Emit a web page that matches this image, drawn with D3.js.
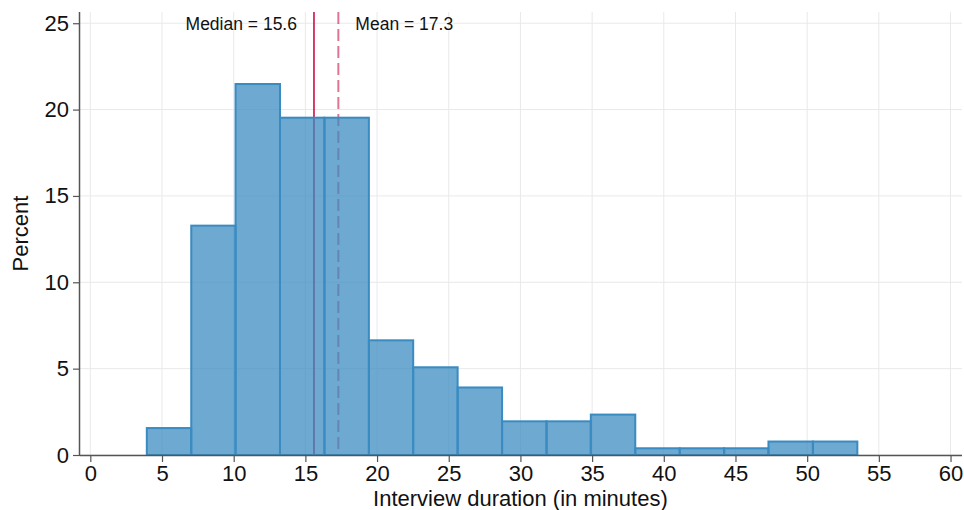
<!DOCTYPE html>
<html>
<head>
<meta charset="utf-8">
<script src="https://cdn.jsdelivr.net/npm/d3@7/dist/d3.min.js"></script>
<style>
  html, body { margin: 0; padding: 0; background: #fff; }
  svg { display: block; font-family: "Liberation Sans", Arial, sans-serif; }
</style>
</head>
<body>
<svg id="chart" width="964" height="510"></svg>
<script>
// ---- data ----
const binEdges = [3.94, 7.04, 10.13, 13.23, 16.33, 19.43, 22.52, 25.62, 28.72, 31.82, 34.91, 38.01, 41.11, 44.21, 47.30, 50.40, 53.50];
const percents = [1.56, 13.28, 21.48, 19.53, 19.53, 6.64, 5.08, 3.91, 1.95, 1.95, 2.34, 0.39, 0.39, 0.39, 0.78, 0.78];
const xTicks = [0, 5, 10, 15, 20, 25, 30, 35, 40, 45, 50, 55, 60];
const yTicks = [0, 5, 10, 15, 20, 25];
const medianValue = 15.6;
const meanValue = 17.3;
const medianLabel = "Median = 15.6";
const meanLabel = "Mean = 17.3";
const xTitle = "Interview duration (in minutes)";
const yTitle = "Percent";

// ---- layout ----
const svg = d3.select("#chart");
const plotLeft = 80, plotRight = 962, plotTop = 12, plotBottom = 455;
const x = d3.scaleLinear().domain([-0.72, 60.8]).range([plotLeft, plotRight]);
const y = d3.scaleLinear().domain([0, 25.65]).range([plotBottom, plotTop]);

const barStroke = "#3a8bc1";
const gridColor = "#e9e9e9";
const axisColor = "#555555";

// gridlines
svg.append("g").selectAll("line").data(xTicks).join("line")
  .attr("x1", d => x(d)).attr("x2", d => x(d))
  .attr("y1", plotTop).attr("y2", plotBottom)
  .attr("stroke", gridColor).attr("stroke-width", 1);
svg.append("g").selectAll("line").data(yTicks).join("line")
  .attr("x1", plotLeft).attr("x2", plotRight)
  .attr("y1", d => y(d)).attr("y2", d => y(d))
  .attr("stroke", gridColor).attr("stroke-width", 1);

// reference lines (behind bars)
svg.append("line")
  .attr("x1", x(medianValue)).attr("x2", x(medianValue))
  .attr("y1", plotTop).attr("y2", plotBottom)
  .attr("stroke", "#c8003c").attr("stroke-width", 1.5);
svg.append("line")
  .attr("x1", x(meanValue)).attr("x2", x(meanValue))
  .attr("y1", plotTop).attr("y2", plotBottom)
  .attr("stroke", "#c8003c").attr("stroke-opacity", 0.55)
  .attr("stroke-width", 2).attr("stroke-dasharray", "12,5");

// bars
const bins = percents.map((p, i) => ({ x0: binEdges[i], x1: binEdges[i + 1], p }));
svg.append("g").selectAll("rect").data(bins).join("rect")
  .attr("x", d => x(d.x0))
  .attr("width", d => x(d.x1) - x(d.x0))
  .attr("y", d => y(d.p))
  .attr("height", d => y(0) - y(d.p))
  .attr("fill", barStroke).attr("fill-opacity", 0.74)
  .attr("stroke", barStroke).attr("stroke-width", 2);

// axes
const xAxis = d3.axisBottom(x).tickValues(xTicks).tickSize(7).tickPadding(3).tickFormat(d3.format("d"));
const gx = svg.append("g").attr("transform", `translate(0,${plotBottom})`).call(xAxis);
gx.select(".domain").attr("d", `M${plotLeft},0.5H${plotRight}`).attr("stroke", axisColor).attr("stroke-width", 1.5);
gx.selectAll(".tick line").attr("stroke", axisColor).attr("stroke-width", 1.2);
gx.selectAll(".tick text").attr("font-size", 22).attr("fill", "#111").attr("font-family", "Liberation Sans, Arial, sans-serif");

const yAxis = d3.axisLeft(y).tickValues(yTicks).tickSize(7).tickPadding(4).tickFormat(d3.format("d"));
const gy = svg.append("g").attr("transform", `translate(${plotLeft},0)`).call(yAxis);
gy.select(".domain").attr("d", `M-0.5,${plotTop}V${plotBottom}`).attr("stroke", axisColor).attr("stroke-width", 1.5);
gy.selectAll(".tick line").attr("stroke", axisColor).attr("stroke-width", 1.2);
gy.selectAll(".tick text").attr("font-size", 22).attr("fill", "#111").attr("font-family", "Liberation Sans, Arial, sans-serif");

// titles
svg.append("text")
  .attr("x", (x(0) + x(60)) / 2)
  .attr("y", 506)
  .attr("text-anchor", "middle")
  .attr("font-size", 22).attr("fill", "#111")
  .text(xTitle);
svg.append("text")
  .attr("transform", `translate(28,${(plotTop + plotBottom) / 2}) rotate(-90)`)
  .attr("text-anchor", "middle")
  .attr("font-size", 22).attr("fill", "#111")
  .text(yTitle);

// annotations
svg.append("text")
  .attr("x", x(medianValue) - 17).attr("y", 30)
  .attr("text-anchor", "end")
  .attr("font-size", 17.5).attr("fill", "#111")
  .text(medianLabel);
svg.append("text")
  .attr("x", x(meanValue) + 17).attr("y", 30)
  .attr("text-anchor", "start")
  .attr("font-size", 17.5).attr("fill", "#111")
  .text(meanLabel);
</script>
</body>
</html>
